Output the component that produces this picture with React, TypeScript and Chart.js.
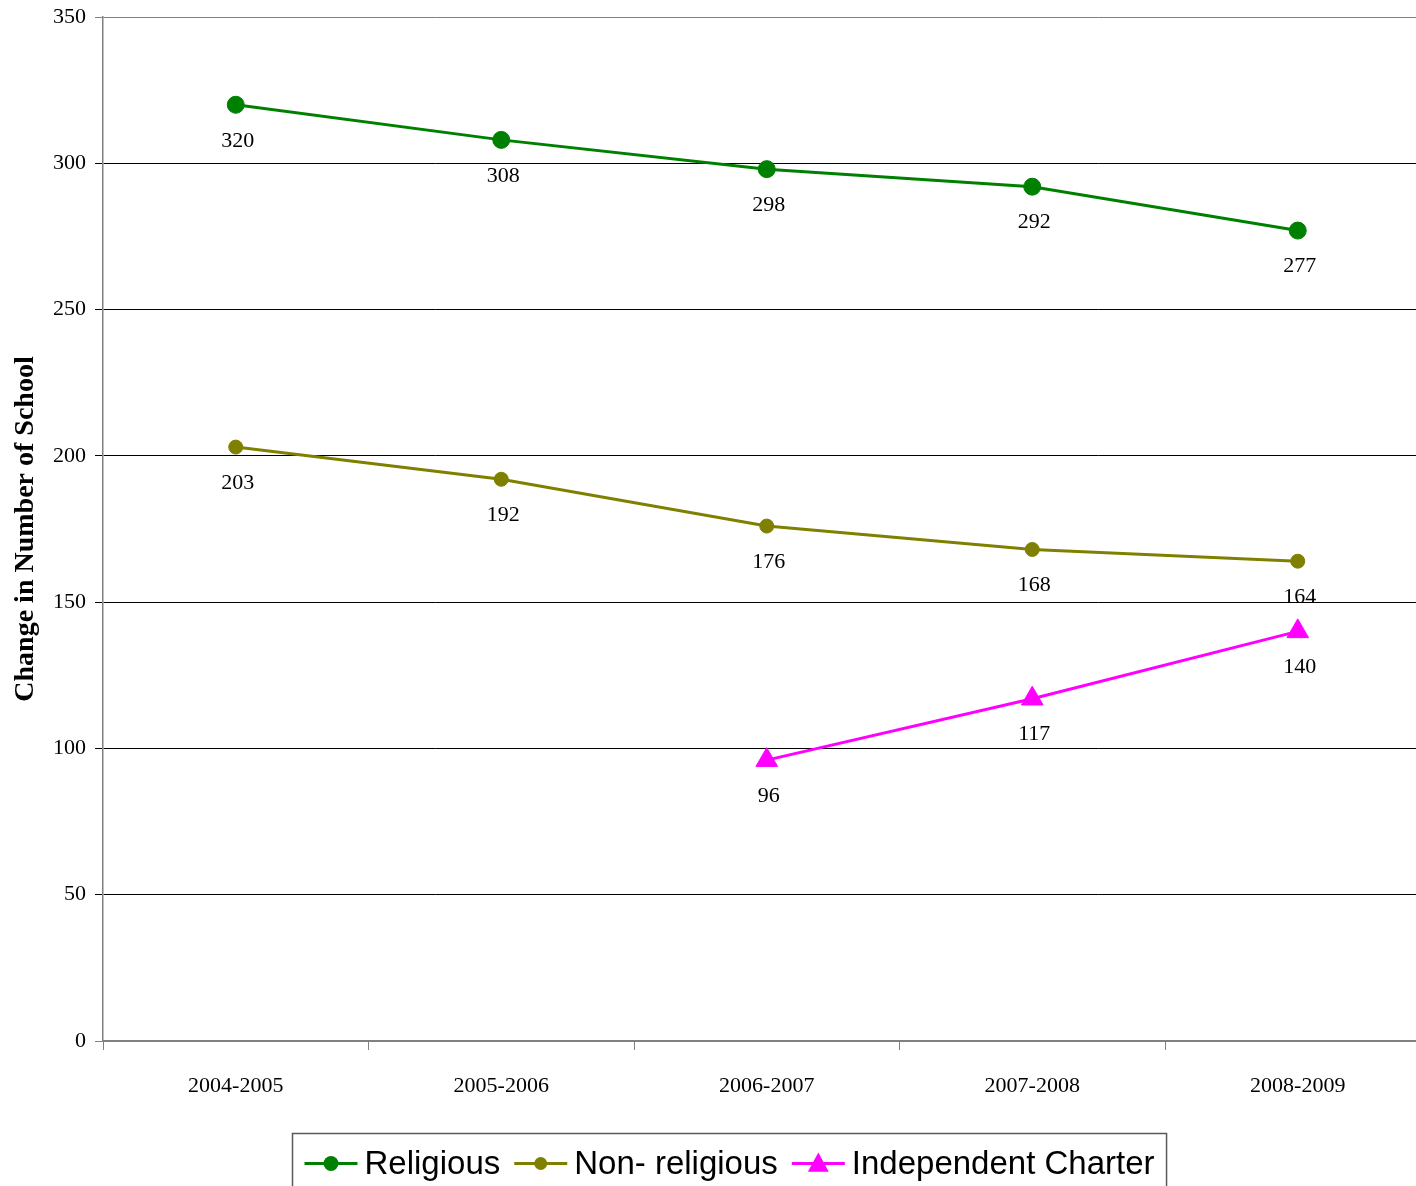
import React, { useEffect, useRef } from "react";
import { Chart, registerables } from "chart.js";

Chart.register(...registerables);

const categories = ["2004-2005", "2005-2006", "2006-2007", "2007-2008", "2008-2009"];
const religious = [320, 308, 298, 292, 277];
const nonReligious = [203, 192, 176, 168, 164];
const independentCharter = [null, null, 96, 117, 140];
const seriesNames = ["Religious", "Non- religious", "Independent Charter"];
const seriesColors = ["#008000", "#808000", "#FF00FF"];
const yMin = 0;
const yMax = 350;
const yStep = 50;
const yTitle = "Change in Number of School";

const SERIF = '"Liberation Serif", "Times New Roman", serif';
const SANS = '"Liberation Sans", Arial, sans-serif';

const CANVAS_W = 1440;
const CANVAS_H = 1200;

function drawMarker(ctx: CanvasRenderingContext2D, style: string, x: number, y: number, r: number) {
  ctx.beginPath();
  if (style === "triangle") {
    ctx.moveTo(x, y - r);
    ctx.lineTo(x + r * 0.95, y + r * 0.75);
    ctx.lineTo(x - r * 0.95, y + r * 0.75);
    ctx.closePath();
  } else {
    ctx.arc(x, y, r, 0, Math.PI * 2);
  }
  ctx.fill();
}

const dataLabelsPlugin = {
  id: "dataLabels",
  afterDatasetsDraw(chart: any) {
    const ctx = chart.ctx as CanvasRenderingContext2D;
    ctx.save();
    ctx.font = `22px ${SERIF}`;
    ctx.fillStyle = "#000";
    ctx.textAlign = "center";
    ctx.textBaseline = "middle";
    chart.data.datasets.forEach((ds: any, i: number) => {
      const meta = chart.getDatasetMeta(i);
      meta.data.forEach((pt: any, j: number) => {
        const v = ds.data[j];
        if (v === null || v === undefined) return;
        ctx.fillText(String(v), pt.x + 2, pt.y + 36);
      });
    });
    ctx.restore();
  },
};

const legendBoxPlugin = {
  id: "legendBox",
  afterDraw(chart: any) {
    const ctx = chart.ctx as CanvasRenderingContext2D;
    const styles = ["circle", "circle", "triangle"];
    const radii = [7.5, 6.5, 11];
    const symW = 53;
    const gapSymText = 7;
    const gapItems = 14;
    const pad = 12;
    ctx.save();
    ctx.font = `33px ${SANS}`;
    const widths = seriesNames.map((n) => ctx.measureText(n).width);
    const total = widths.reduce((a, w) => a + symW + gapSymText + w, 0) + gapItems * (seriesNames.length - 1);
    const boxW = total + pad * 2;
    const cx = 729;
    const left = Math.round(cx - boxW / 2) + 0.5;
    const top = chart.chartArea.bottom + 92.5;
    ctx.strokeStyle = "#5a5a5a";
    ctx.lineWidth = 1.5;
    ctx.strokeRect(left, top, boxW, 80);
    const cy = top + 30;
    let x = left + pad;
    seriesNames.forEach((name, i) => {
      const col = seriesColors[i];
      ctx.strokeStyle = col;
      ctx.fillStyle = col;
      ctx.lineWidth = 3;
      ctx.beginPath();
      ctx.moveTo(x, cy);
      ctx.lineTo(x + symW, cy);
      ctx.stroke();
      drawMarker(ctx, styles[i], x + symW / 2, cy, radii[i]);
      x += symW + gapSymText;
      ctx.fillStyle = "#000";
      ctx.textAlign = "left";
      ctx.textBaseline = "middle";
      ctx.fillText(name, x, cy + 1);
      x += widths[i] + gapItems;
    });
    ctx.restore();
  },
};

export default function App() {
  const ref = useRef<HTMLCanvasElement | null>(null);

  useEffect(() => {
    if (!ref.current) return;
    const gridColor = (c: any) => {
      const v = c.tick && c.tick.value;
      return v === yMax || v === yMin ? "#808080" : "#000000";
    };
    const chart = new Chart(ref.current, {
      type: "line",
      data: {
        labels: categories,
        datasets: [
          {
            label: seriesNames[0],
            data: religious,
            borderColor: seriesColors[0],
            backgroundColor: seriesColors[0],
            pointBackgroundColor: seriesColors[0],
            pointBorderColor: seriesColors[0],
            borderWidth: 3,
            pointRadius: 8.5,
            pointBorderWidth: 1,
            pointStyle: "circle",
            tension: 0,
          },
          {
            label: seriesNames[1],
            data: nonReligious,
            borderColor: seriesColors[1],
            backgroundColor: seriesColors[1],
            pointBackgroundColor: seriesColors[1],
            pointBorderColor: seriesColors[1],
            borderWidth: 3,
            pointRadius: 7,
            pointBorderWidth: 1,
            pointStyle: "circle",
            tension: 0,
          },
          {
            label: seriesNames[2],
            data: independentCharter,
            borderColor: seriesColors[2],
            backgroundColor: seriesColors[2],
            pointBackgroundColor: seriesColors[2],
            pointBorderColor: seriesColors[2],
            borderWidth: 3,
            pointRadius: 12.5,
            pointBorderWidth: 1,
            pointStyle: "triangle",
            tension: 0,
          },
        ],
      },
      options: {
        responsive: false,
        animation: false,
        events: [],
        layout: {
          autoPadding: false,
          padding: { top: 17, left: 0, right: 9.5, bottom: CANVAS_H - 1041 - 60 },
        },
        plugins: {
          legend: { display: false },
          tooltip: { enabled: false },
        },
        scales: {
          x: {
            type: "category",
            offset: true,
            grid: {
              offset: true,
              drawOnChartArea: false,
              drawTicks: true,
              tickLength: 9,
              color: "#808080",
            },
            border: { display: true, color: "#808080", width: 1.5 },
            ticks: {
              color: "#000",
              font: { family: SERIF, size: 22 },
              padding: 23,
              maxRotation: 0,
              autoSkip: false,
            },
            afterFit: (s: any) => {
              s.height = 60;
              s.paddingLeft = 0;
              s.paddingRight = 0;
            },
          },
          y: {
            min: yMin,
            max: yMax,
            ticks: {
              stepSize: yStep,
              color: "#000",
              font: { family: SERIF, size: 22 },
              padding: 9,
            },
            grid: {
              color: gridColor,
              tickColor: gridColor,
              tickLength: 8,
              lineWidth: 1,
            },
            border: { display: true, color: "#808080", width: 1.5 },
            title: {
              display: true,
              text: yTitle,
              color: "#000",
              font: { family: SERIF, size: 28, weight: "bold" },
              padding: { top: 9, bottom: 0 },
            },
            afterFit: (s: any) => {
              s.width = 103;
              s.paddingTop = 0;
              s.paddingBottom = 0;
            },
          },
        },
      },
      plugins: [dataLabelsPlugin, legendBoxPlugin],
    } as any);
    return () => chart.destroy();
  }, []);

  return (
    <div
      style={{
        position: "absolute",
        left: 0,
        top: 0,
        width: 1416,
        height: 1186,
        overflow: "hidden",
        background: "#fff",
      }}
    >
      <canvas ref={ref} width={CANVAS_W} height={CANVAS_H} style={{ display: "block" }} />
    </div>
  );
}
